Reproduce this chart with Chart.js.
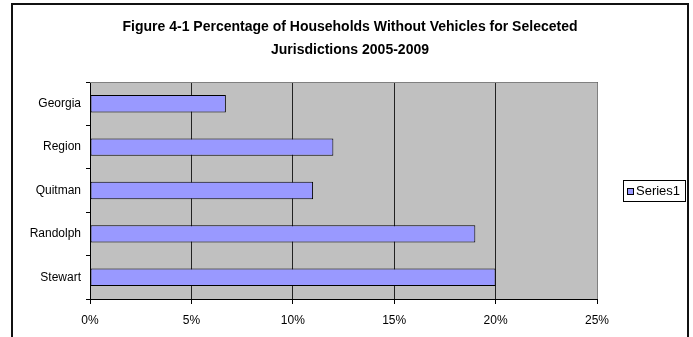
<!DOCTYPE html>
<html>
<head>
<meta charset="utf-8">
<script src="https://cdn.jsdelivr.net/npm/chart.js@4/dist/chart.umd.min.js"></script>
<style>
  html, body { margin: 0; padding: 0; background: #fff; }
  #wrap { width: 693px; height: 337px; }
</style>
</head>
<body>
<div id="wrap"><canvas id="c" width="693" height="337"></canvas></div>
<script>
// ---- data ----
const categories = ['Georgia', 'Region', 'Quitman', 'Randolph', 'Stewart'];
const seriesName = 'Series1';
const seriesValues = [6.7, 12.0, 11.0, 19.0, 20.0];
const xTicks = [0, 5, 10, 15, 20, 25];
const titleLines = ['Figure 4-1 Percentage of Households Without Vehicles for Seleceted', 'Jurisdictions 2005-2009'];

const FONT = "'Liberation Sans', Arial, sans-serif";

const decor = {
  id: 'decor',
  beforeDraw(chart) {
    const ctx = chart.ctx, a = chart.chartArea;
    ctx.save();
    ctx.fillStyle = '#fff';
    ctx.fillRect(0, 0, chart.width, chart.height);
    // outer frame
    ctx.strokeStyle = '#111';
    ctx.lineWidth = 2;
    ctx.beginPath();
    ctx.moveTo(12, 340); ctx.lineTo(12, 4); ctx.lineTo(688, 4); ctx.lineTo(688, 340);
    ctx.stroke();
    // plot background
    ctx.fillStyle = '#C0C0C0';
    ctx.fillRect(a.left, a.top, a.right - a.left, a.bottom - a.top);
    // title
    ctx.fillStyle = '#000';
    ctx.font = 'bold 14px ' + FONT;
    ctx.textAlign = 'center';
    ctx.textBaseline = 'middle';
    ctx.fillText(titleLines[0], 350, 27);
    ctx.fillText(titleLines[1], 350, 50);
    ctx.restore();
  },
  afterDatasetsDraw(chart) {
    const ctx = chart.ctx, a = chart.chartArea;
    ctx.save();
    ctx.strokeStyle = '#808080';
    ctx.lineWidth = 1;
    ctx.beginPath();
    ctx.moveTo(a.left, a.top + 0.5); ctx.lineTo(a.right + 0.5, a.top + 0.5); ctx.lineTo(a.right + 0.5, a.bottom);
    ctx.stroke();
    // legend
    const ds = chart.data.datasets[0];
    ctx.strokeStyle = '#000';
    ctx.strokeRect(623.5, 180.5, 62, 21);
    ctx.fillStyle = ds.backgroundColor;
    ctx.fillRect(627, 188, 7, 7);
    ctx.strokeRect(627.5, 188.5, 6, 6);
    ctx.fillStyle = '#000';
    ctx.font = '13px ' + FONT;
    ctx.textAlign = 'left';
    ctx.textBaseline = 'middle';
    ctx.fillText(ds.label, 636, 191.5);
    ctx.restore();
  }
};

new Chart(document.getElementById('c'), {
  type: 'bar',
  data: {
    labels: categories,
    datasets: [{
      label: seriesName,
      data: seriesValues,
      backgroundColor: '#9999FF',
      borderColor: '#000',
      borderWidth: 1,
      borderSkipped: false,
      categoryPercentage: 1.0,
      barPercentage: 0.4
    }]
  },
  options: {
    indexAxis: 'y',
    responsive: false,
    animation: false,
    devicePixelRatio: 1,
    layout: { padding: { left: 12, top: 82, right: 96, bottom: 0 } },
    plugins: { legend: { display: false }, title: { display: false }, tooltip: { enabled: false } },
    scales: {
      x: {
        min: 0, max: 25,
        afterBuildTicks(s) { s.ticks = xTicks.map(v => ({ value: v })); },
        afterFit(s) { s.height = 38; },
        ticks: { callback: v => v + '%', color: '#000', font: { family: FONT, size: 12 }, padding: 9, maxRotation: 0 },
        grid: { color: '#222', lineWidth: 1, tickLength: 5, tickColor: '#000' },
        border: { display: true, color: '#000', width: 1 }
      },
      y: {
        afterFit(s) { s.width = 78; },
        ticks: { color: '#000', font: { family: FONT, size: 12 }, padding: 5 },
        grid: { drawOnChartArea: false, offset: true, tickLength: 4, color: '#000' },
        border: { display: true, color: '#000', width: 1 }
      }
    }
  },
  plugins: [decor]
});
</script>
</body>
</html>
